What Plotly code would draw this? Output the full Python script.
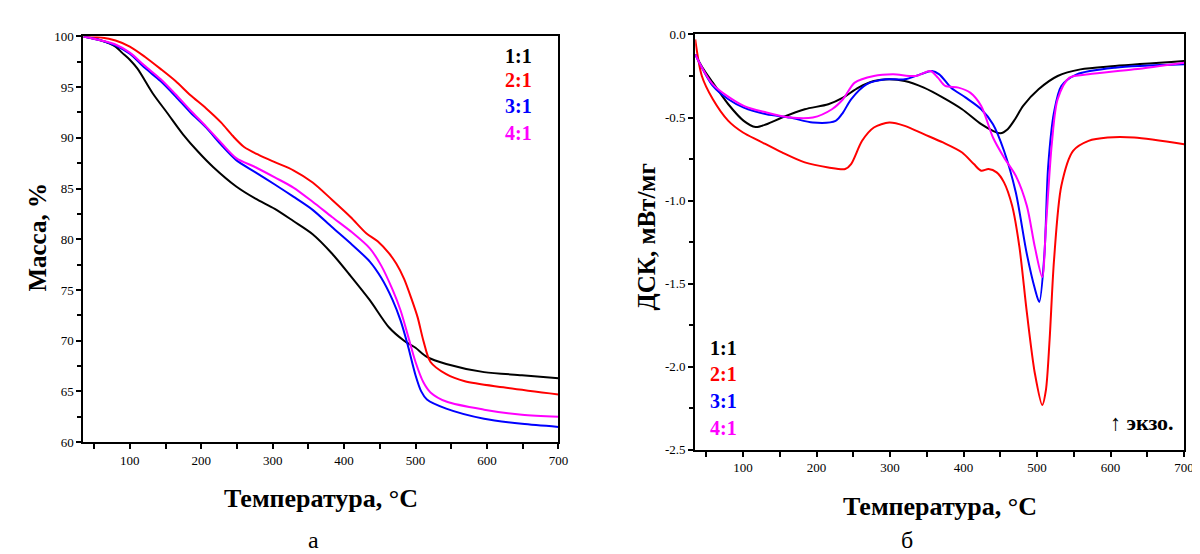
import plotly.graph_objects as go

# ---------------- TG data (left panel) ----------------
tg_11_x = [35, 60, 80, 89, 100, 111, 132, 153, 175, 196, 217, 249, 276, 303, 329, 356, 383, 409, 436, 463, 484, 500, 516, 543, 596, 649, 700]
tg_11_y = [100, 99.6, 99.0, 98.4, 97.7, 96.8, 94.4, 92.4, 90.3, 88.6, 87.1, 85.2, 84.0, 83.0, 81.8, 80.5, 78.6, 76.4, 74.0, 71.3, 70.0, 69.3, 68.4, 67.7, 66.9, 66.6, 66.3]

tg_21_x = [35, 60, 80, 100, 121, 143, 164, 185, 207, 228, 244, 260, 281, 303, 329, 356, 383, 409, 431, 447, 463, 473, 484, 495, 503, 511, 521, 543, 569, 623, 700]
tg_21_y = [100, 99.9, 99.6, 99.0, 98.0, 96.8, 95.6, 94.2, 92.9, 91.5, 90.2, 89.1, 88.3, 87.6, 86.8, 85.6, 83.9, 82.2, 80.6, 79.8, 78.6, 77.6, 76.1, 74.0, 72.3, 70.0, 67.9, 66.7, 66.0, 65.4, 64.7]

tg_31_x = [35, 60, 80, 100, 121, 143, 164, 185, 207, 228, 249, 276, 303, 329, 356, 383, 409, 436, 452, 468, 479, 489, 500, 508, 516, 543, 596, 649, 700]
tg_31_y = [100, 99.6, 99.1, 98.3, 96.9, 95.6, 94.1, 92.5, 91.0, 89.3, 87.8, 86.6, 85.4, 84.2, 82.9, 81.2, 79.6, 77.8, 76.2, 74.0, 72.0, 69.6, 66.6, 65.0, 64.2, 63.3, 62.3, 61.8, 61.5]

tg_41_x = [35, 60, 80, 100, 121, 143, 164, 185, 207, 228, 249, 276, 303, 329, 356, 383, 409, 436, 452, 468, 479, 489, 500, 511, 521, 543, 596, 649, 700]
tg_41_y = [100, 99.6, 99.2, 98.4, 97.1, 95.8, 94.3, 92.7, 91.1, 89.5, 88.0, 87.1, 86.1, 85.1, 83.7, 82.2, 80.8, 79.1, 77.4, 75.0, 73.0, 70.6, 67.9, 65.9, 64.9, 64.0, 63.2, 62.7, 62.5]

# ---------------- DSC data (right panel) ----------------
dsc_11_x = [35, 45, 59, 80, 101, 117, 132, 153, 184, 216, 236, 257, 278, 299, 320, 346, 372, 398, 424, 440, 450, 460, 470, 481, 502, 528, 559, 606, 700]
dsc_11_y = [-0.12, -0.2, -0.29, -0.42, -0.52, -0.557, -0.54, -0.50, -0.45, -0.42, -0.38, -0.32, -0.28, -0.27, -0.28, -0.32, -0.38, -0.45, -0.54, -0.58, -0.595, -0.57, -0.51, -0.43, -0.33, -0.25, -0.21, -0.19, -0.16]

dsc_21_x = [35, 44, 59, 80, 100, 122, 153, 184, 216, 239, 247, 262, 278, 299, 320, 346, 372, 398, 414, 424, 434, 445, 455, 466, 476, 486, 497, 507, 512, 517, 523, 533, 549, 570, 596, 632, 700]
dsc_21_y = [-0.03, -0.25, -0.39, -0.52, -0.59, -0.64, -0.71, -0.77, -0.80, -0.81, -0.78, -0.64, -0.56, -0.53, -0.55, -0.60, -0.65, -0.71, -0.78, -0.82, -0.81, -0.83, -0.89, -1.03, -1.28, -1.67, -2.04, -2.23, -2.14, -1.84, -1.36, -0.91, -0.70, -0.64, -0.62, -0.62, -0.66]

dsc_31_x = [35, 59, 80, 101, 132, 164, 195, 226, 236, 247, 268, 294, 320, 341, 357, 367, 383, 403, 424, 440, 455, 471, 486, 497, 503, 510, 515, 523, 533, 554, 606, 700]
dsc_31_y = [-0.12, -0.31, -0.39, -0.44, -0.48, -0.50, -0.53, -0.52, -0.47, -0.39, -0.30, -0.27, -0.27, -0.24, -0.22, -0.24, -0.32, -0.38, -0.45, -0.54, -0.70, -0.95, -1.32, -1.53, -1.61, -1.32, -0.80, -0.47, -0.31, -0.24, -0.20, -0.18]

dsc_41_x = [35, 59, 101, 132, 164, 195, 221, 236, 252, 278, 304, 335, 355, 365, 375, 393, 409, 424, 440, 455, 471, 486, 497, 507, 512, 520, 528, 544, 570, 632, 700]
dsc_41_y = [-0.12, -0.30, -0.43, -0.47, -0.50, -0.50, -0.45, -0.39, -0.29, -0.25, -0.24, -0.25, -0.22, -0.26, -0.31, -0.32, -0.35, -0.43, -0.62, -0.74, -0.85, -1.03, -1.28, -1.46, -1.16, -0.66, -0.39, -0.26, -0.24, -0.21, -0.17]

series_names = ["1:1", "2:1", "3:1", "4:1"]
series_colors = ["#000000", "#ff0000", "#0000ff", "#ff00ff"]

x_tickvals = [100, 200, 300, 400, 500, 600, 700]
dsc_tickvals = [0.0, -0.5, -1.0, -1.5, -2.0, -2.5]
dsc_ticktext = ["0.0", "-0.5", "-1.0", "-1.5", "-2.0", "-2.5"]

tg_sets = [(tg_11_x, tg_11_y), (tg_21_x, tg_21_y), (tg_31_x, tg_31_y), (tg_41_x, tg_41_y)]
dsc_sets = [(dsc_11_x, dsc_11_y), (dsc_21_x, dsc_21_y), (dsc_31_x, dsc_31_y), (dsc_41_x, dsc_41_y)]

FONT = "Liberation Serif"

fig = go.Figure()
for (x, y), c, n in zip(tg_sets, series_colors, series_names):
    fig.add_trace(go.Scatter(x=x, y=y, mode="lines", name=n, showlegend=False,
                             line=dict(color=c, width=2, shape="spline", smoothing=0.8),
                             xaxis="x", yaxis="y"))
for (x, y), c, n in zip(dsc_sets, series_colors, series_names):
    fig.add_trace(go.Scatter(x=x, y=y, mode="lines", name=n, showlegend=False,
                             line=dict(color=c, width=2, shape="spline", smoothing=0.8),
                             xaxis="x2", yaxis="y2"))

common_axis = dict(showline=True, linecolor="black", linewidth=2, mirror=True,
                   ticks="outside", ticklen=5, tickwidth=1.5, tickcolor="black",
                   showgrid=False, zeroline=False,
                   tickfont=dict(family=FONT, size=13, color="black"))

fig.update_layout(
    width=1200, height=554,
    margin=dict(l=0, r=0, t=0, b=0),
    paper_bgcolor="white", plot_bgcolor="white",
    xaxis=dict(domain=[76/1200, 555/1200], range=[35, 700], anchor="y",
               tickvals=x_tickvals,
               minor=dict(dtick=50, tick0=0, ticks="outside", ticklen=5, tickcolor="black"),
               **common_axis),
    yaxis=dict(domain=[1-439/554, 1-22/554], range=[60, 100], anchor="x",
               dtick=5, minor=dict(dtick=2.5, ticks="outside", ticklen=4, tickcolor="black"),
               **common_axis),
    xaxis2=dict(domain=[693/1200, 1186/1200], range=[35, 700], anchor="y2",
                tickvals=x_tickvals,
                minor=dict(dtick=50, tick0=0, ticks="outside", ticklen=5, tickcolor="black"),
                **common_axis),
    yaxis2=dict(domain=[1-447/554, 1-20/554], range=[-2.5, 0], anchor="x2",
                tickvals=dsc_tickvals, ticktext=dsc_ticktext,
                minor=dict(dtick=0.25, ticks="outside", ticklen=4, tickcolor="black"),
                **common_axis),
)

ann = []
# axis titles
ann.append(dict(text="<b>Температура, °C</b>", x=316, y=497, size=26))
ann.append(dict(text="<b>Температура, °C</b>", x=940, y=505, size=26))
ann.append(dict(text="<b>Масса, %</b>", x=30, y=228, textangle=-90, size=25))
ann.append(dict(text="<b>ДСК, мВт/мг</b>", x=644, y=228, textangle=-90, size=25))
annotations = []
for a in ann:
    annotations.append(dict(text=a["text"], xref="paper", yref="paper",
                            x=a["x"]/1200, y=1-a["y"]/554, showarrow=False,
                            textangle=a.get("textangle", 0),
                            xanchor="center", yanchor="middle",
                            font=dict(family=FONT, size=a["size"], color="black")))
# panel letters
annotations.append(dict(text="а", xref="paper", yref="paper", x=300/1200, y=1-540/554,
                        yanchor="middle", showarrow=False,
                        font=dict(family=FONT, size=24, color="black")))
annotations.append(dict(text="б", xref="paper", yref="paper", x=915/1200, y=1-540/554,
                        yanchor="middle", showarrow=False,
                        font=dict(family=FONT, size=24, color="black")))
# legends
left_ys = [42, 67, 94, 121]
right_ys = [342, 369, 397, 424]
for n, c, ly, ry in zip(series_names, series_colors, left_ys, right_ys):
    annotations.append(dict(text=f"<b>{n}</b>", xref="paper", yref="paper",
                            x=530/1200, y=1-ly/554, xanchor="right", yanchor="middle",
                            showarrow=False, font=dict(family=FONT, size=20, color=c)))
    annotations.append(dict(text=f"<b>{n}</b>", xref="paper", yref="paper",
                            x=706/1200, y=1-ry/554, xanchor="left", yanchor="middle",
                            showarrow=False, font=dict(family=FONT, size=20, color=c)))
annotations.append(dict(text="↑ <b>экзо.</b>", xref="paper", yref="paper",
                        x=1178/1200, y=1-419/554, xanchor="right", yanchor="middle",
                        showarrow=False, font=dict(family=FONT, size=22, color="black")))
fig.update_layout(annotations=annotations)

fig.write_html("out.html")
